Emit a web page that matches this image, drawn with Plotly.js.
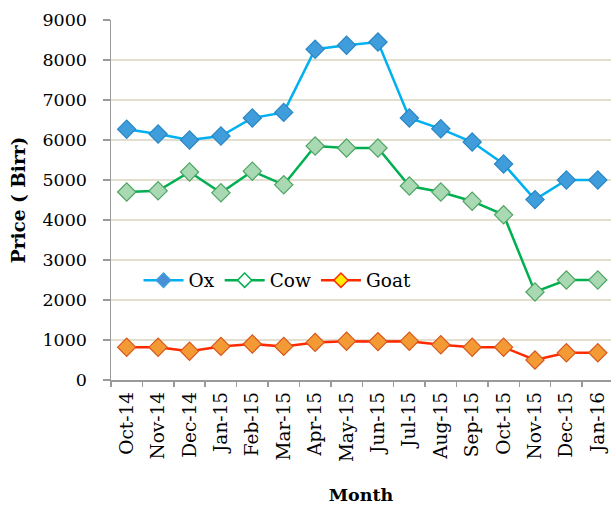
<!DOCTYPE html>
<html><head><meta charset="utf-8">
<script src="https://cdn.plot.ly/plotly-3.0.1.min.js"></script>
<style>html,body{margin:0;padding:0;background:#fff}#chart{width:611px;height:505px}</style>
</head><body><div id="chart"></div>
<script>
const months = ["Oct-14","Nov-14","Dec-14","Jan-15","Feb-15","Mar-15","Apr-15","May-15","Jun-15","Jul-15","Aug-15","Sep-15","Oct-15","Nov-15","Dec-15","Jan-16"];
const oxPrice = [6270,6150,6000,6100,6550,6690,8270,8370,8450,6550,6280,5950,5400,4510,5000,5000];
const cowPrice = [4700,4730,5200,4680,5220,4880,5850,5800,5800,4850,4700,4470,4130,2200,2500,2500];
const goatPrice = [820,820,720,840,900,840,940,970,960,970,880,820,820,500,680,680];
const yTicks = [0,1000,2000,3000,4000,5000,6000,7000,8000,9000];

const font = "DejaVu Serif, Liberation Serif, serif";
function series(y, lineColor, fill, edge){
  return {x: months, y: y, type: "scatter", mode: "lines+markers", showlegend: false,
    line: {color: lineColor, width: 2.5},
    marker: {symbol: "diamond", size: 14, color: fill, line: {color: edge, width: 1.2}}};
}
function legendEntry(name, lineColor, fill, edge){
  return {x: [null], y: [null], type: "scatter", mode: "lines+markers", name: name,
    line: {color: lineColor, width: 2.5},
    marker: {symbol: "diamond", size: 11, color: fill, line: {color: edge, width: 1.5}}};
}
const data = [
  series(oxPrice, "#00b0f0", "#3f9ddc", "#2a86c4"),
  series(cowPrice, "#00b050", "#a8d9b2", "#4fa463"),
  series(goatPrice, "#ff2a00", "#f39a35", "#d8561c"),
  legendEntry("Ox", "#00b0f0", "#4a8fd6", "#3a9fe0"),
  legendEntry("Cow", "#00b050", "#ffffff", "#00b050"),
  legendEntry("Goat", "#ff2a00", "#ffee00", "#ff2a00")
];
const layout = {
  width: 611, height: 505,
  margin: {l: 111, r: 0, t: 19.5, b: 124.5},
  paper_bgcolor: "#ffffff", plot_bgcolor: "#ffffff",
  font: {family: font, color: "#000", size: 17},
  xaxis: {type: "category", range: [-0.5, 15.42], tickson: "boundaries",
    ticks: "outside", ticklen: 5, tickcolor: "#9a9a9a", tickwidth: 1.5,
    showline: true, linecolor: "#9a9a9a", linewidth: 1.5, showgrid: false,
    tickangle: -90, tickfont: {family: font, size: 18.5}, ticklabelstandoff: 3,
    title: {text: "<b>Month</b>", font: {family: font, size: 17.5}, standoff: 32}},
  yaxis: {range: [0, 9000], tickvals: yTicks, ticktext: yTicks.map(String),
    ticks: "outside", ticklen: 7, tickcolor: "#9a9a9a", tickwidth: 1.5,
    showline: true, linecolor: "#9a9a9a", linewidth: 1.5,
    showgrid: true, gridcolor: "#e3dfcf", gridwidth: 1.8, zeroline: false,
    tickfont: {family: font, size: 17.5}, ticklabelstandoff: 12,
    title: {text: "<b>Price ( Birr)</b>", font: {family: font, size: 18.5}, standoff: 12}},
  legend: {orientation: "h", x: 0.055, y: 0.276, xanchor: "left", yanchor: "middle",
    bgcolor: "rgba(0,0,0,0)", font: {family: font, size: 18.5}, itemwidth: 40},
  showlegend: true
};
Plotly.newPlot("chart", data, layout, {displayModeBar: false, staticPlot: true});
</script></body></html>
